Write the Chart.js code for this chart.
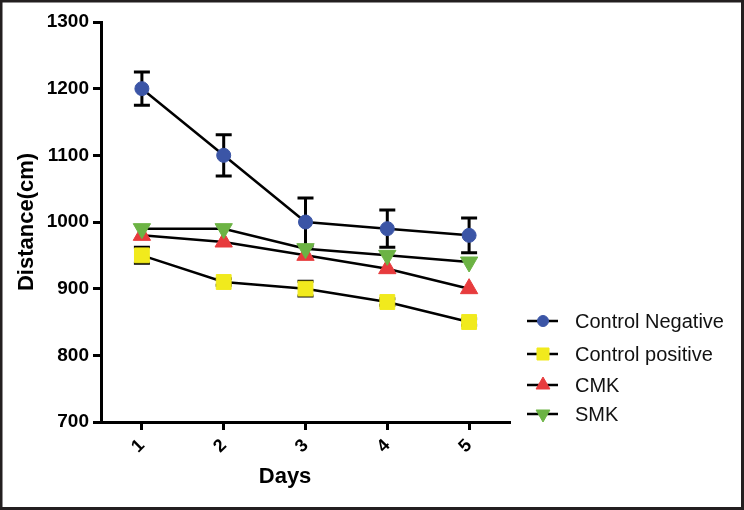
<!DOCTYPE html>
<html>
<head>
<meta charset="utf-8">
<script src="https://cdn.jsdelivr.net/npm/chart.js@4/dist/chart.umd.min.js"></script>
<style>
  html, body { margin: 0; padding: 0; background: #fff; }
  #wrap { width: 744px; height: 510px; position: relative; }
</style>
</head>
<body>
<div id="wrap"><canvas id="c" width="744" height="510"></canvas></div>
<script>
// ---- data ----
const days = ['1', '2', '3', '4', '5'];
const seriesNames = ['Control Negative', 'Control positive', 'CMK', 'SMK'];
const controlNegative = [1200, 1100, 1000, 990, 980];
const controlNegativeErr = [25, 31, 36, 28, 26];
const controlPositive = [950, 910, 900, 880, 850];
const controlPositiveErr = [12, 5, 11, 5, 5];
const cmk = [980, 970, 950, 930, 900];
const cmkErr = [0, 0, 0, 0, 0];
const smk = [990, 990, 960, 950, 940];
const smkErr = [0, 0, 0, 0, 0];
const yMin = 700, yMax = 1300, yStep = 100;
const xTitle = 'Days';
const yTitle = 'Distance(cm)';

const FONT = "'Liberation Sans', Arial, Helvetica, sans-serif";
const colors = ['#3b55a6', '#f1ea1d', '#e73b3d', '#6cb344'];
const styles = ['circle', 'rect', 'triangle', 'triangle'];
const rotations = [0, 0, 0, 180];
const radii = [7, 10.5, 10, 10];
const legendRadii = [5.5, 8.5, 8, 8];
const drawOrder = [-2, 0, 0, -1];
const errs = [controlNegativeErr, controlPositiveErr, cmkErr, smkErr];
const values = [controlNegative, controlPositive, cmk, smk];

const datasets = values.map((v, i) => ({
  label: seriesNames[i],
  data: v,
  order: drawOrder[i],
  borderColor: '#000',
  borderWidth: 2.5,
  tension: 0,
  fill: false,
  pointStyle: styles[i],
  rotation: rotations[i],
  pointRadius: radii[i],
  pointHoverRadius: radii[i],
  pointBackgroundColor: colors[i],
  pointBorderColor: colors[i],
  pointBorderWidth: 1,
  errors: errs[i]
}));

const errorBars = {
  id: 'errorBars',
  beforeDatasetsDraw(chart) {
    const ctx = chart.ctx;
    const xs = chart.scales.x, ys = chart.scales.y;
    ctx.save();
    ctx.strokeStyle = '#000';
    ctx.lineWidth = 3;
    chart.data.datasets.forEach(ds => {
      ds.data.forEach((v, j) => {
        const e = ds.errors[j];
        if (!e) return;
        const x = xs.getPixelForValue(j);
        const yt = ys.getPixelForValue(v + e);
        const yb = ys.getPixelForValue(v - e);
        ctx.beginPath();
        ctx.moveTo(x, yt); ctx.lineTo(x, yb);
        ctx.moveTo(x - 8, yt); ctx.lineTo(x + 8, yt);
        ctx.moveTo(x - 8, yb); ctx.lineTo(x + 8, yb);
        ctx.stroke();
      });
    });
    ctx.restore();
  }
};

function drawMarker(ctx, style, rotation, r, x, y, color) {
  const opts = { pointStyle: style, rotation: rotation, radius: r, borderWidth: 1 };
  ctx.fillStyle = color; ctx.strokeStyle = color; ctx.lineWidth = 1;
  if (Chart.helpers && Chart.helpers.drawPoint) {
    Chart.helpers.drawPoint(ctx, opts, x, y);
  } else {
    ctx.beginPath(); ctx.arc(x, y, r, 0, Math.PI * 2); ctx.fill();
  }
}

const extras = {
  id: 'extras',
  afterDraw(chart) {
    const ctx = chart.ctx;
    const ca = chart.chartArea;
    ctx.save();
    // x-axis title
    ctx.fillStyle = '#000';
    ctx.font = 'bold 22px ' + FONT;
    ctx.textAlign = 'center';
    ctx.textBaseline = 'middle';
    ctx.fillText(xTitle, ca.left + (ca.right - ca.left) * 0.45, 477);
    // legend
    const lx0 = ca.right + 17, lx1 = ca.right + 48, mx = ca.right + 33;
    const rowY = [321, 354, 385, 414];
    chart.data.datasets.forEach((ds, i) => {
      const y = rowY[i];
      ctx.strokeStyle = '#000';
      ctx.lineWidth = 2.5;
      ctx.beginPath(); ctx.moveTo(lx0, y); ctx.lineTo(lx1, y); ctx.stroke();
      drawMarker(ctx, styles[i], rotations[i], legendRadii[i], mx, y, colors[i]);
      ctx.fillStyle = '#111';
      ctx.font = '20px ' + FONT;
      ctx.textAlign = 'left';
      ctx.textBaseline = 'middle';
      ctx.fillText(ds.label, ca.right + 65, y + 1);
    });
    // outer frame
    ctx.strokeStyle = '#231f20';
    ctx.lineWidth = 3;
    ctx.strokeRect(1, 1, chart.width - 2.5, chart.height - 2.5);
    ctx.restore();
  }
};

new Chart(document.getElementById('c'), {
  type: 'line',
  data: { labels: days, datasets: datasets },
  options: {
    responsive: false,
    animation: false,
    devicePixelRatio: 1,
    layout: { padding: { left: 0, top: 22, right: 234, bottom: 0 } },
    plugins: { legend: { display: false }, tooltip: { enabled: false } },
    scales: {
      x: {
        type: 'category',
        offset: true,
        afterFit(s) { s.height = 88; },
        ticks: {
          minRotation: 45, maxRotation: 45,
          color: '#000',
          font: { family: FONT, size: 18, weight: 'bold' },
          padding: 5
        },
        grid: { drawOnChartArea: false, drawTicks: true, tickLength: 8, tickWidth: 3, tickColor: '#000' },
        border: { display: true, width: 3, color: '#000' },
        title: { display: false }
      },
      y: {
        min: yMin, max: yMax,
        afterFit(s) { s.width = 101; },
        ticks: {
          stepSize: yStep,
          color: '#000',
          font: { family: FONT, size: 19, weight: 'bold' },
          padding: 4,
          callback: v => String(v)
        },
        grid: { drawOnChartArea: false, drawTicks: true, tickLength: 8, tickWidth: 3, tickColor: '#000' },
        border: { display: true, width: 3, color: '#000' },
        title: {
          display: true, text: yTitle, color: '#000',
          font: { family: FONT, size: 22, weight: 'bold' },
          padding: { top: 14, bottom: 0 }
        }
      }
    }
  },
  plugins: [errorBars, extras]
});
</script>
</body>
</html>
